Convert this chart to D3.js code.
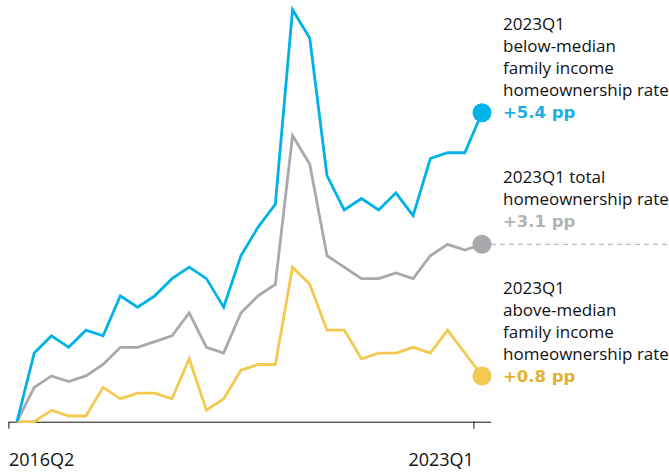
<!DOCTYPE html>
<html>
<head>
<meta charset="utf-8">
<script src="https://cdn.jsdelivr.net/npm/d3@7"></script>
<style>
  html, body { margin: 0; padding: 0; background: #fff; }
  svg { display: block; font-family: "Open Sans", sans-serif; }
</style>
</head>
<body>
<div id="canvas"></div>
<script>
// quarters, 2016Q2 .. 2023Q1
const quarters = ["2016Q2","2016Q3","2016Q4","2017Q1","2017Q2","2017Q3","2017Q4",
  "2018Q1","2018Q2","2018Q3","2018Q4","2019Q1","2019Q2","2019Q3","2019Q4",
  "2020Q1","2020Q2","2020Q3","2020Q4","2021Q1","2021Q2","2021Q3","2021Q4",
  "2022Q1","2022Q2","2022Q3","2022Q4","2023Q1"];

// change in homeownership rate since 2016Q2, percentage points
const belowMedian = [0,1.2,1.5,1.3,1.6,1.5,2.2,2.0,2.2,2.5,2.7,2.5,2.0,2.9,3.4,3.8,7.2,6.7,4.3,3.7,3.9,3.7,4.0,3.6,4.6,4.7,4.7,5.4];
const total       = [0,0.6,0.8,0.7,0.8,1.0,1.3,1.3,1.4,1.5,1.9,1.3,1.2,1.9,2.2,2.4,5.0,4.5,2.9,2.7,2.5,2.5,2.6,2.5,2.9,3.1,3.0,3.1];
const aboveMedian = [0,0,0.2,0.1,0.1,0.6,0.4,0.5,0.5,0.4,1.1,0.2,0.4,0.9,1.0,1.0,2.7,2.4,1.6,1.6,1.1,1.2,1.2,1.3,1.2,1.6,1.2,0.8];

const tickLabels = ["2016Q2", "2023Q1"];

const labelBelow = ["2023Q1", "below-median", "family income", "homeownership rate"];
const labelTotal = ["2023Q1 total", "homeownership rate"];
const labelAbove = ["2023Q1", "above-median", "family income", "homeownership rate"];
const changeText = ["+5.4 pp", "+3.1 pp", "+0.8 pp"];

const width = 669, height = 472;

const svg = d3.select("#canvas").append("svg")
  .attr("width", width)
  .attr("height", height);

// x: quarter index; points sit in the middle of each quarter
const x = d3.scaleLinear().domain([0, quarters.length]).range([8.4, 490.6]);
const y = d3.scaleLinear().domain([0, 5.4]).range([421.7, 112.7]);

const series = [
  { values: total, color: "#a7a9ac", text: "#b3b3b3" },
  { values: aboveMedian, color: "#f5c94f", text: "#e2b231" },
  { values: belowMedian, color: "#00b2e8", text: "#1eaee6" }
];

const line = d3.line()
  .x((d, i) => x(i + 0.5))
  .y(d => y(d));

const last = quarters.length - 1;

// dashed guide at the total's last value
svg.append("line")
  .attr("x1", x(last + 0.5))
  .attr("x2", width)
  .attr("y1", y(total[last]))
  .attr("y2", y(total[last]))
  .attr("stroke", "#aaaaaa")
  .attr("stroke-width", 1)
  .attr("stroke-dasharray", "5,4");

// axis
const axis = svg.append("g")
  .attr("transform", `translate(0,${y(0)})`)
  .call(d3.axisBottom(x)
    .tickValues([0, last])
    .tickSize(7)
    .tickSizeOuter(0)
    .tickFormat((d, i) => tickLabels[i]));
axis.select(".domain").attr("stroke", "#111");
axis.selectAll(".tick line").attr("stroke", "#111");
axis.selectAll(".tick text")
  .attr("font-family", "Open Sans, sans-serif")
  .attr("font-size", 18)
  .attr("fill", "#111")
  .attr("y", 44.5)
  .attr("dy", 0)
  .attr("text-anchor", (d, i) => i === 0 ? "start" : "end");

series.forEach(s => {
  svg.append("path")
    .datum(s.values)
    .attr("fill", "none")
    .attr("stroke", s.color)
    .attr("stroke-width", 2.8)
    .attr("stroke-linejoin", "miter")
    .attr("d", line);
  svg.append("circle")
    .attr("cx", x(last + 0.5))
    .attr("cy", y(s.values[last]))
    .attr("r", 9.5)
    .attr("fill", s.color);
});

// end labels
function block(lines, firstBaseline, change, color) {
  const t = svg.append("text")
    .attr("x", 503)
    .attr("font-size", 17)
    .attr("fill", "#111");
  lines.forEach((l, i) => {
    t.append("tspan").attr("x", 503).attr("y", firstBaseline + i * 22).text(l);
  });
  svg.append("text")
    .attr("x", 503)
    .attr("y", firstBaseline + lines.length * 22)
    .attr("font-family", "DejaVu Sans, sans-serif")
    .attr("font-size", 16.5)
    .attr("font-weight", "bold")
    .attr("fill", color)
    .text(change);
}

block(labelBelow, 29.5, changeText[0], series[2].text);
block(labelTotal, 182.5, changeText[1], series[0].text);
block(labelAbove, 293.5, changeText[2], series[1].text);
</script>
</body>
</html>
